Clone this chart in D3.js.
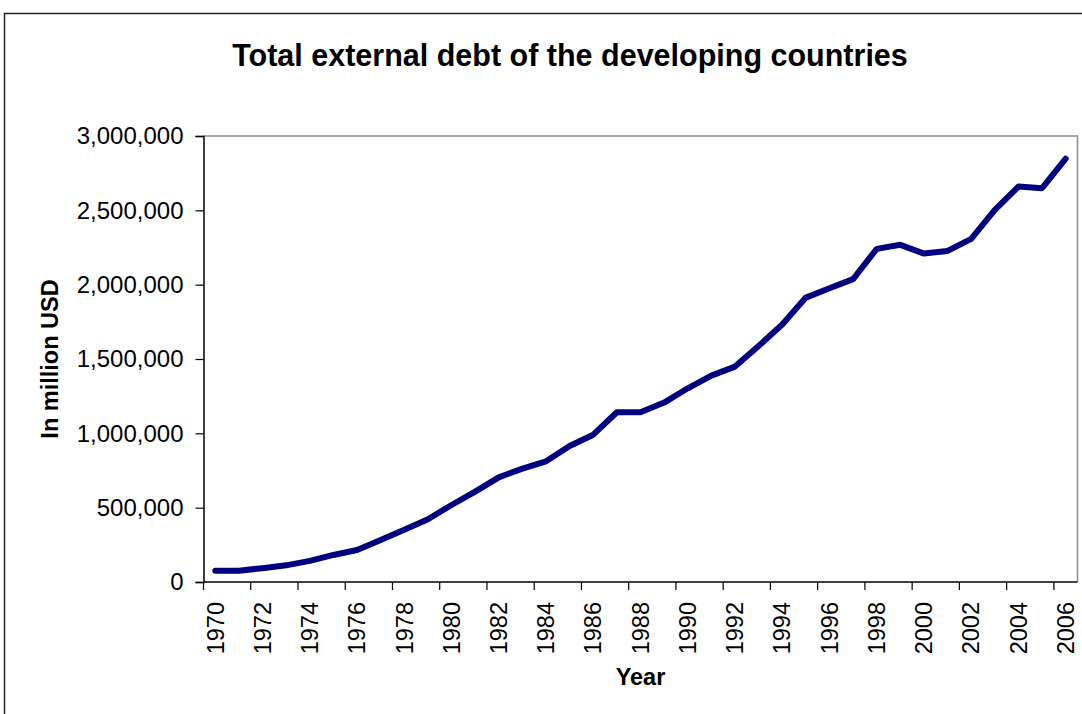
<!DOCTYPE html>
<html>
<head>
<meta charset="utf-8">
<script src="https://cdn.jsdelivr.net/npm/d3@7"></script>
<style>
  html, body { margin: 0; padding: 0; background: #fff; overflow: hidden; }
  svg { display: block; }
  text { font-family: "Liberation Sans", Arial, Helvetica, sans-serif; fill: #000; }
</style>
</head>
<body>
<svg id="chart" width="1082" height="714"></svg>
<script>
// Total external debt of developing countries, million USD, 1970-2006
const years = d3.range(1970, 2007);
const debt = [
  76000, 76000, 93000, 112000, 142000, 182000, 215000, 283000, 352000, 422000,
  518000, 608000, 704000, 763000, 812000, 915000, 991000, 1142000, 1142000, 1207000,
  1303000, 1388000, 1449000, 1588000, 1732000, 1913000, 1976000, 2037000, 2241000, 2268000,
  2209000, 2227000, 2308000, 2503000, 2660000, 2649000, 2847000
];
const yTicks = [0, 500000, 1000000, 1500000, 2000000, 2500000, 3000000];
const labelYears = years.filter(y => (y - 1970) % 2 === 0);

const titleText = "Total external debt of the developing countries";
const yTitle = "In million USD";
const xTitle = "Year";

const svg = d3.select("#chart");

const plot = { left: 203.5, right: 1077.5, top: 136, bottom: 582 };

// Outer chart frame (runs past the right and bottom of the page)
svg.append("rect")
  .attr("x", 4.5).attr("y", 13.5)
  .attr("width", 1200).attr("height", 800)
  .attr("fill", "none").attr("stroke", "#222").attr("stroke-width", 1.5);

const x = d3.scaleBand().domain(years).range([plot.left, plot.right]).padding(0);
const y = d3.scaleLinear().domain([0, 3000000]).range([plot.bottom, plot.top]);

// Plot area border: grey top and right edges
svg.append("path")
  .attr("d", `M${plot.left},${plot.top}H${plot.right}V${plot.bottom}`)
  .attr("fill", "none").attr("stroke", "#8c8c8c").attr("stroke-width", 1.5);

// Y axis
const yAxis = d3.axisLeft(y)
  .tickValues(yTicks)
  .tickFormat(d3.format(","))
  .tickSize(8)
  .tickPadding(12);
const gy = svg.append("g").attr("transform", `translate(${plot.left},0)`).call(yAxis);
gy.select(".domain").attr("stroke", "#000").attr("stroke-width", 1.5);
gy.selectAll(".tick line").attr("stroke", "#000").attr("stroke-width", 1.2);
gy.selectAll(".tick text")
  .attr("font-size", 24)
  .attr("font-family", "Liberation Sans, Arial, sans-serif")
  .attr("fill", "#000");

// X axis: tick marks on category boundaries every two years, labels at category centres
const gx = svg.append("g").attr("transform", `translate(0,${plot.bottom})`);
gx.append("line")
  .attr("x1", plot.left).attr("x2", plot.right)
  .attr("stroke", "#000").attr("stroke-width", 1.5);
gx.selectAll("line.tick")
  .data(labelYears)
  .join("line")
  .attr("class", "tick")
  .attr("x1", d => x(d)).attr("x2", d => x(d))
  .attr("y1", 0).attr("y2", 8)
  .attr("stroke", "#000").attr("stroke-width", 1.2);
gx.selectAll("text.lbl")
  .data(labelYears)
  .join("text")
  .attr("class", "lbl")
  .attr("transform", d => `translate(${x(d) + x.bandwidth() / 2},20) rotate(-90)`)
  .attr("text-anchor", "end")
  .attr("dy", "0.35em")
  .attr("font-size", 23.5)
  .text(d => d);

// Data line
const line = d3.line()
  .x((d, i) => x(years[i]) + x.bandwidth() / 2)
  .y(d => y(d));
svg.append("path")
  .datum(debt)
  .attr("d", line)
  .attr("fill", "none")
  .attr("stroke", "#000080")
  .attr("stroke-width", 6)
  .attr("stroke-linejoin", "round")
  .attr("stroke-linecap", "round");

// Titles
svg.append("text")
  .attr("x", 570).attr("y", 66)
  .attr("text-anchor", "middle")
  .attr("font-size", 30.5)
  .attr("font-weight", "bold")
  .text(titleText);

svg.append("text")
  .attr("transform", `translate(58,${(plot.top + plot.bottom) / 2}) rotate(-90)`)
  .attr("text-anchor", "middle")
  .attr("font-size", 23.5)
  .attr("font-weight", "bold")
  .text(yTitle);

svg.append("text")
  .attr("x", (plot.left + plot.right) / 2).attr("y", 685)
  .attr("text-anchor", "middle")
  .attr("font-size", 23.5)
  .attr("font-weight", "bold")
  .text(xTitle);
</script>
</body>
</html>
